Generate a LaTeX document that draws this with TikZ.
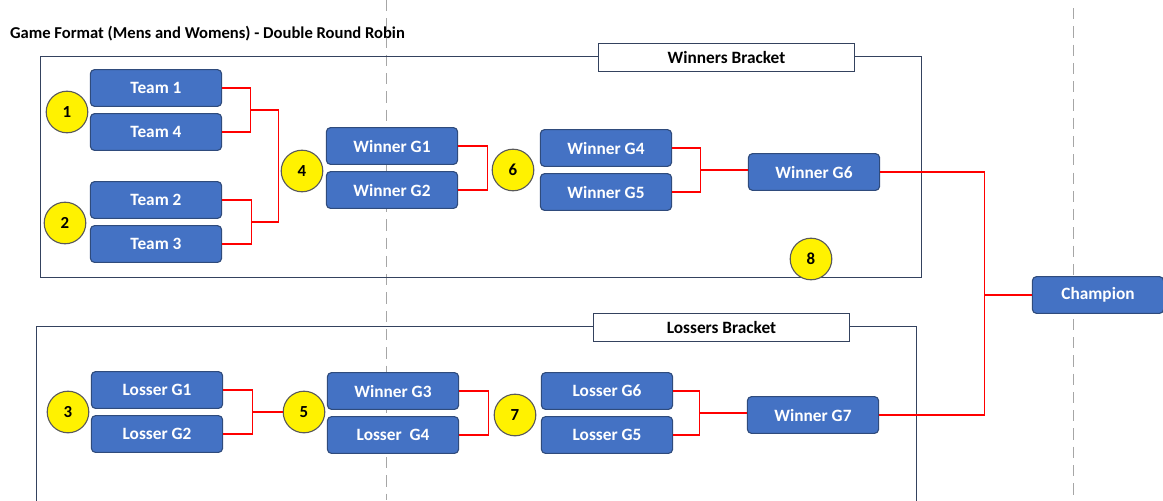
\documentclass[tikz,border=0pt]{standalone}
\usepackage{fontspec}
\setmainfont{Carlito}
\usetikzlibrary{positioning}
\usetikzlibrary{calc}
\definecolor{boxblue}{HTML}{4472C4}
\definecolor{boxedge}{HTML}{2F4B7C}
\definecolor{framenavy}{HTML}{34425E}
\definecolor{dashgray}{HTML}{A6A6A6}
\definecolor{slotedge}{HTML}{5A5A5A}

\begin{document}
\begin{tikzpicture}[
            x = 0.025cm, y = -0.025cm, % one unit = one pixel of the sheet
            node distance = 1.1cm, % distance between paired games
            semithick % line style
        ]

        \tikzstyle{game}=[
            draw = boxedge,
            line width = 0.8pt,
            fill = boxblue,
            rounded corners = 3pt,
            text = white,
            font = \bfseries\fontsize{12.3}{14}\selectfont,
            minimum width = 3.28cm,
            minimum height = 0.92cm,
            inner sep = 0pt
        ]
        \tikzstyle{slot}=[
            circle,
            draw = slotedge,
            line width = 0.8pt,
            fill = yellow,
            minimum size = 1.04cm,
            inner sep = 0pt,
            font = \bfseries\fontsize{12}{14}\selectfont
        ]
        \tikzstyle{tag}=[
            draw = framenavy,
            fill = white,
            line width = 0.7pt,
            minimum width = 6.42cm,
            minimum height = 0.7cm,
            font = \bfseries\fontsize{12.3}{14}\selectfont
        ]
        \tikzstyle{link}=[draw = red, line width = 0.75pt]
        \tikzstyle{frame}=[draw = framenavy, line width = 0.7pt]

        \useasboundingbox (0,0) rectangle (1163,500);

        % dashed guides
        \draw[dashgray, line width = 0.6pt, dash pattern = on 8pt off 5pt] (386,0) -- (386,500);
        \draw[dashgray, line width = 0.6pt, dash pattern = on 8pt off 5pt] (1073,8) -- (1073,500);

        \node[anchor = west, font = \bfseries\fontsize{11.8}{14}\selectfont] (title) at (5,34)
            {Game Format (Mens and Womens) - Double Round Robin};

	% bracket frames
        \draw[frame] (40,56) rectangle (921,277);
        \draw[frame] (36,510) -- (36,326) -- (916,326) -- (916,510);
        \node[tag] (WB) at (726.5,57) {Winners Bracket};
        \node[tag] (LB) at (721.5,327) {Lossers Bracket};

	% winners bracket
        \node[game] (T1) at (156,88) {Team 1};
        \node[game] (T4) [below of = T1] {Team 4};
        \node[game] (T2) at (156,200) {Team 2};
        \node[game] (T3) [below of = T2] {Team 3};
        \node[game] (WG1) at (392,146) {Winner G1};
        \node[game] (WG2) [below of = WG1] {Winner G2};
        \node[game] (WG4) at (606,148) {Winner G4};
        \node[game] (WG5) [below of = WG4] {Winner G5};
        \node[game] (WG6) at (814,172) {Winner G6};

        \node[slot] (S1) at (67,112) {1};
        \node[slot] (S2) at (65,223) {2};
        \node[slot] (S4) at (302,171) {4};
        \node[slot] (S6) at (513,170) {6};
        \node[slot] (S8) at (811,259) {8};

	% lossers bracket
        \node[game] (LG1) at (157,390) {Losser G1};
        \node[game] (LG2) [below of = LG1] {Losser G2};
        \node[game] (WG3) at (393,391) {Winner G3};
        \node[game] (LG4) [below of = WG3] {Losser\ \ G4};
        \node[game] (LG6) at (607,391) {Losser G6};
        \node[game] (LG5) [below of = LG6] {Losser G5};
        \node[game] (WG7) at (813,415) {Winner G7};

        \node[slot] (S3) at (68,412) {3};
        \node[slot] (S5) at (304,412) {5};
        \node[slot] (S7) at (515,415) {7};

        \node[game] (CH) at (1098,295) {Champion};

	% joints
        \coordinate (jA) at ($(T1.east)!0.5!(T4.east)+(28,0)$);
        \coordinate (jB) at ($(T2.east)!0.5!(T3.east)+(29,0)$);
        \coordinate (jC) at ($(WG1.east)!0.5!(WG2.east)+(29,0)$);
        \coordinate (jD) at ($(WG4.east)!0.5!(WG5.east)+(28,0)$);
        \coordinate (jE) at ($(LG1.east)!0.5!(LG2.east)+(29,0)$);
        \coordinate (jF) at ($(WG3.east)!0.5!(LG4.east)+(29,0)$);
        \coordinate (jG) at ($(LG6.east)!0.5!(LG5.east)+(26,0)$);
        \coordinate (jH) at ($(CH.west)+(-47,0)$);

	% connectors
        \path[link] (T1.east) -| (jA) |- (T4.east);
        \path[link] (T2.east) -| (jB) |- (T3.east);
        \path[link] (jA) -- ++(28,0) |- (jB);
        \path[link] (WG1.east) -| (jC) |- (WG2.east);
        \path[link] (WG4.east) -| (jD) |- (WG5.east);
        \path[link] (jD) -- (jD -| WG6.west);
        \path[link] (LG1.east) -| (jE) |- (LG2.east);
        \path[link] (jE) -- (jE -| S5.west);
        \path[link] (WG3.east) -| (jF) |- (LG4.east);
        \path[link] (LG6.east) -| (jG) |- (LG5.east);
        \path[link] (jG) -- (jG -| WG7.west);
        \path[link] (WG6.east) -| (jH) |- (WG7.east);
        \path[link] (jH) -- (CH.west);

\end{tikzpicture}
\end{document}
